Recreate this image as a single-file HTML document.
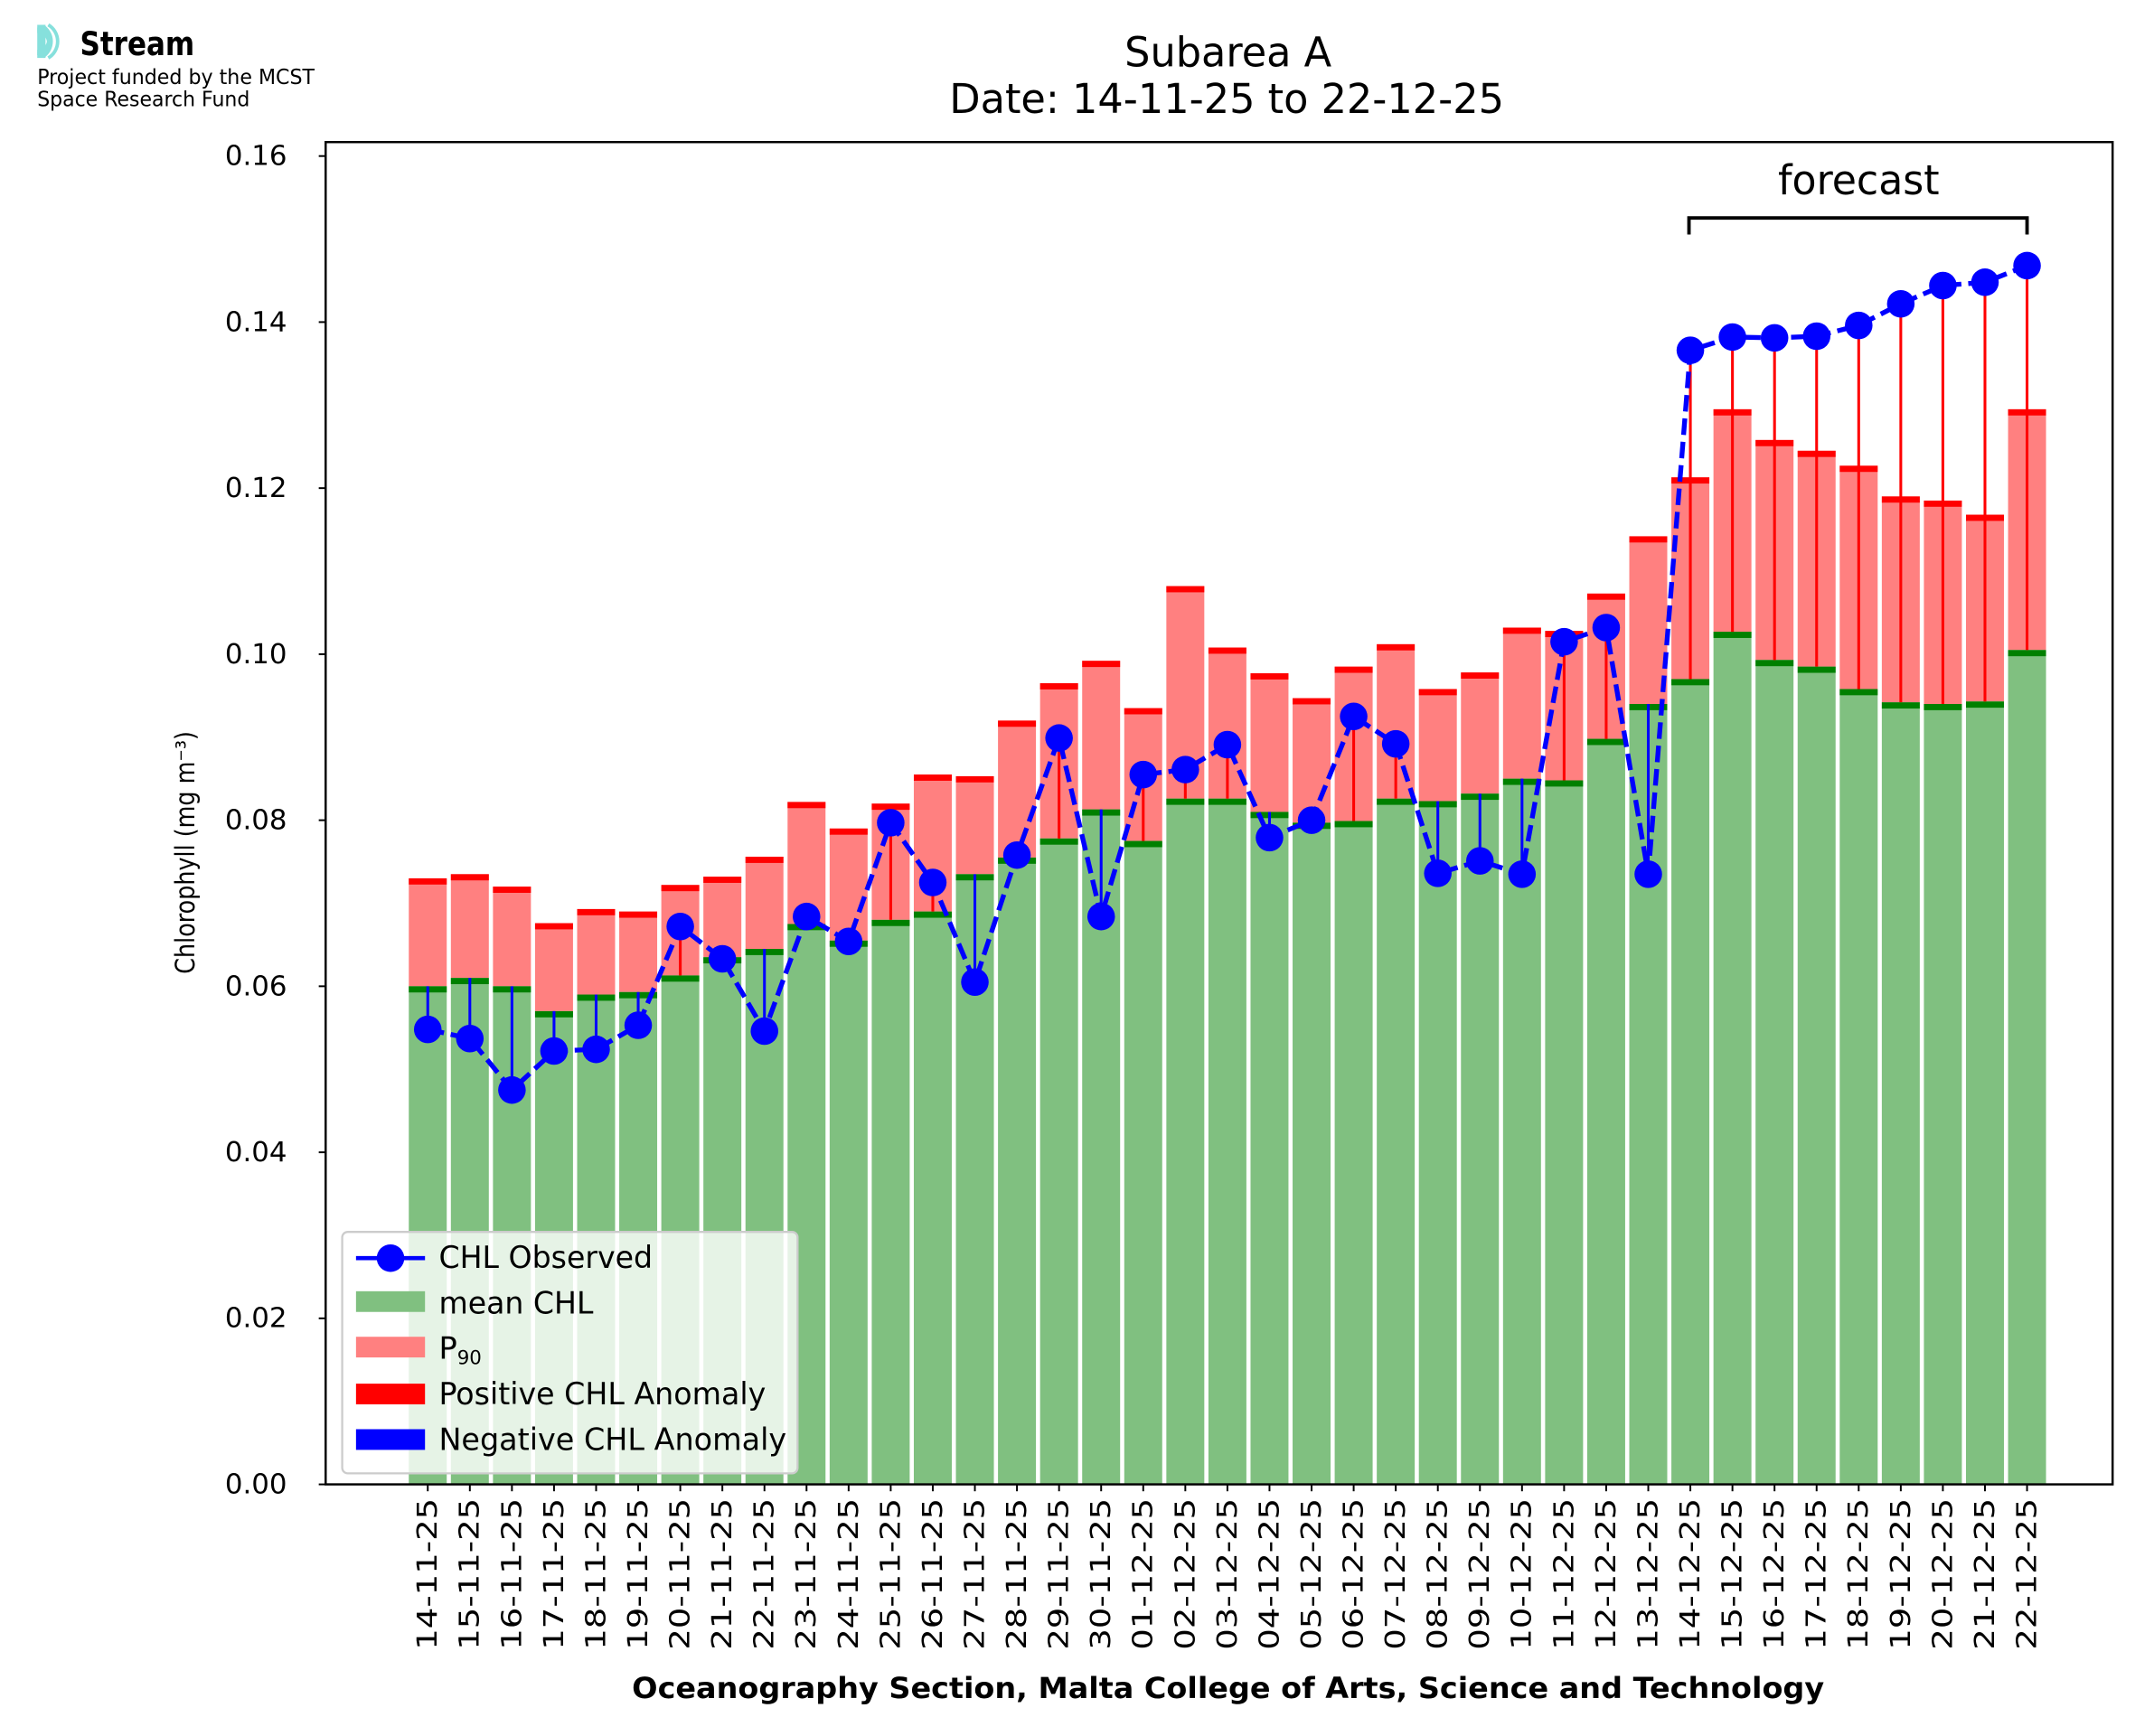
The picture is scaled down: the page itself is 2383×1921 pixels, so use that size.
<!DOCTYPE html>
<html><head><meta charset="utf-8"><style>
html,body{margin:0;padding:0;background:#fff}
svg{display:block}
text{font-family:"DejaVu Sans","Liberation Sans",sans-serif;fill:#000}
</style></head><body>
<svg id="s" width="2383" height="1921" viewBox="0 0 1561 1258.4" preserveAspectRatio="none" xmlns="http://www.w3.org/2000/svg">
<rect width="1561" height="1258.4" fill="#fff"/>
<g>
<rect x="27" y="18" width="6" height="24" fill="#86e0dc"/>
<path d="M27 22 A9 9 0 0 1 36 30 A9 9 0 0 1 27 38" fill="none" stroke="#86e0dc" stroke-width="4"/>
<path d="M31 19 A13 13 0 0 1 31 41" fill="none" stroke="#86e0dc" stroke-width="2.5"/>
<path d="M35 18 A14 14 0 0 1 35 42" fill="none" stroke="#86e0dc" stroke-width="2.5"/>
<text x="58" y="40" font-size="24" font-weight="bold" textLength="83" lengthAdjust="spacingAndGlyphs">Stream</text>
<text x="27" y="61" font-size="15" textLength="201" lengthAdjust="spacingAndGlyphs">Project funded by the MCST</text>
<text x="27" y="77" font-size="15" textLength="154" lengthAdjust="spacingAndGlyphs">Space Research Fund</text>
</g>
<text x="890" y="48" font-size="30" text-anchor="middle" textLength="150" lengthAdjust="spacingAndGlyphs">Subarea A</text>
<text x="889" y="82" font-size="30" text-anchor="middle" textLength="402" lengthAdjust="spacingAndGlyphs">Date: 14-11-25 to 22-12-25</text>
<g id="plot"></g>
<rect x="236" y="103" width="1295" height="973" fill="none" stroke="#000" stroke-width="1.6"/>
<text transform="translate(141,618) rotate(-90)" font-size="19" text-anchor="middle" textLength="176" lengthAdjust="spacingAndGlyphs">Chlorophyll (mg m⁻³)</text>
<text x="890" y="1231" font-size="21" font-weight="bold" text-anchor="middle" textLength="864" lengthAdjust="spacingAndGlyphs">Oceanography Section, Malta College of Arts, Science and Technology</text>
<path d="M1224 170 V158 H1469 V170" fill="none" stroke="#000" stroke-width="2.5"/>
<text x="1347" y="141" font-size="30" text-anchor="middle" textLength="117" lengthAdjust="spacingAndGlyphs">forecast</text>
<g>
<rect x="248" y="893" width="330" height="175" rx="4" fill="#fff" fill-opacity="0.8" stroke="#ccc" stroke-width="1.5"/>
<line x1="258" y1="912" x2="308" y2="912" stroke="#00f" stroke-width="3"/>
<circle cx="283" cy="912" r="10" fill="#00f"/>
<rect x="258" y="936" width="50" height="15" fill="#80c080"/>
<rect x="258" y="969" width="50" height="15" fill="#ff8080"/>
<rect x="258" y="1003" width="50" height="15" fill="#f00"/>
<rect x="258" y="1036" width="50" height="15" fill="#00f"/>
<text x="318" y="919" font-size="22" textLength="155" lengthAdjust="spacingAndGlyphs">CHL Observed</text>
<text x="318" y="952" font-size="22" textLength="112" lengthAdjust="spacingAndGlyphs">mean CHL</text>
<text x="318" y="985" font-size="22">P<tspan font-size="14" dy="4">90</tspan></text>
<text x="318" y="1018" font-size="22" textLength="237" lengthAdjust="spacingAndGlyphs">Positive CHL Anomaly</text>
<text x="318" y="1051" font-size="22" textLength="252" lengthAdjust="spacingAndGlyphs">Negative CHL Anomaly</text>
</g>
</svg>
<script>
var D=[[.060,.073,.0548],[.061,.0735,.0537],[.060,.072,.0475],[.057,.0676,.0522],[.059,.0693,.0524],[.0593,.069,.0553],[.0613,.0722,.0672],[.0635,.0732,.0633],[.0645,.0756,.0546],[.0675,.0822,.0684],[.0655,.079,.0654],[.068,.082,.0797],[.069,.0855,.0725],[.0735,.0853,.0605],[.0755,.092,.0758],[.0778,.0965,.0899],[.0813,.0992,.0684],[.0775,.0935,.0855],[.0826,.1082,.0861],[.0826,.1008,.0891],[.081,.0977,.0779],[.0797,.0947,.0800],[.0799,.0985,.0925],[.0826,.1012,.0892],[.0823,.0958,.0736],[.0832,.0978,.0751],[.085,.1032,.0735],[.0848,.1028,.1015],[.0898,.1073,.1032],[.094,.1142,.0735],[.097,.1213,.1366],[.1027,.1295,.1382],[.0993,.1258,.1381],[.0985,.1245,.1383],[.0958,.1227,.1396],[.0942,.119,.1422],[.094,.1185,.1444],[.0943,.1168,.1448],[.1005,.1295,.1468]];
var dates=[];for(var d=14;d<=30;d++)dates.push(("0"+d).slice(-2)+"-11-25");for(var d=1;d<=22;d++)dates.push(("0"+d).slice(-2)+"-12-25");
function Y(v){return 1076-v*6018}
var h="",w=27.5;
D.forEach(function(r,i){var c=310+i*30.5,x=c-w/2;
h+='<rect x="'+x+'" y="'+Y(r[1])+'" width="'+w+'" height="'+(Y(r[0])-Y(r[1]))+'" fill="#ff8080"/>';
h+='<rect x="'+x+'" y="'+Y(r[0])+'" width="'+w+'" height="'+(1076-Y(r[0]))+'" fill="#80c080"/>';
h+='<rect x="'+x+'" y="'+Y(r[1])+'" width="'+w+'" height="4.5" fill="#f00"/>';
h+='<rect x="'+x+'" y="'+Y(r[0])+'" width="'+w+'" height="4.5" fill="#008000"/>';
});
D.forEach(function(r,i){var c=310+i*30.5;
h+='<line x1="'+c+'" x2="'+c+'" y1="'+Y(r[0])+'" y2="'+Y(r[2])+'" stroke="'+(r[2]>r[0]?"#f00":"#00f")+'" stroke-width="2"/>';});
var p=D.map(function(r,i){return (310+i*30.5)+","+Y(r[2])}).join(" ");
h+='<polyline points="'+p+'" fill="none" stroke="#00f" stroke-width="3.5" stroke-dasharray="12,5"/>';
D.forEach(function(r,i){h+='<circle cx="'+(310+i*30.5)+'" cy="'+Y(r[2])+'" r="10" fill="#00f"/>';});
for(var k=0;k<=8;k++){var y=Y(k*0.02);h+='<line x1="231" x2="236" y1="'+y+'" y2="'+y+'" stroke="#000" stroke-width="1.3"/><text x="208" y="'+(y+6.5)+'" font-size="20" text-anchor="end" textLength="45" lengthAdjust="spacingAndGlyphs">'+(k*0.02).toFixed(2)+'</text>';}
dates.forEach(function(t,i){var c=310+i*30.5;h+='<line x1="'+c+'" x2="'+c+'" y1="1076" y2="1081" stroke="#000" stroke-width="1.3"/><text transform="translate('+(c+6.5)+',1086) rotate(-90)" font-size="20" text-anchor="end" textLength="110" lengthAdjust="spacingAndGlyphs">'+t+'</text>';});
document.getElementById("plot").innerHTML=h;
</script>
</body></html>
